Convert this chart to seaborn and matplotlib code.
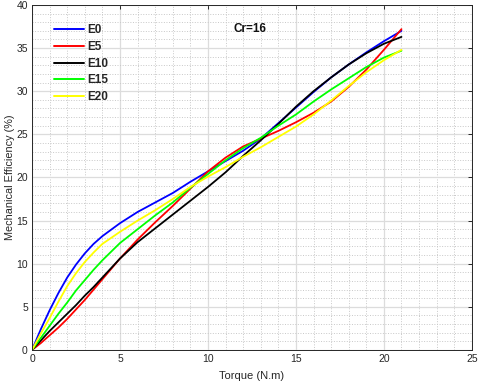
import pandas as pd
import matplotlib
matplotlib.use('Agg')
import matplotlib.pyplot as plt
from matplotlib.ticker import MultipleLocator
import seaborn as sns

# Data
torque = [0, 0.5, 1, 1.5, 2, 2.5, 3, 3.5, 4, 5, 6, 7, 8, 9, 10, 11, 12, 13, 14, 15, 16, 17, 18, 19, 20, 21]
e0 = [0, 2.4, 4.6, 6.6, 8.4, 9.9, 11.2, 12.3, 13.2, 14.7, 16.0, 17.1, 18.2, 19.5, 20.7, 21.9, 23.1, 24.5, 26.3, 28.1, 29.9, 31.6, 33.1, 34.5, 35.8, 37.0]
e5 = [0, 0.8, 1.7, 2.6, 3.6, 4.7, 5.8, 7.0, 8.2, 10.6, 12.8, 14.8, 16.7, 18.7, 20.7, 22.3, 23.6, 24.5, 25.4, 26.4, 27.5, 28.8, 30.5, 32.5, 34.8, 37.2]
e10 = [0, 1.1, 2.2, 3.2, 4.2, 5.2, 6.3, 7.3, 8.4, 10.6, 12.5, 14.1, 15.7, 17.3, 18.9, 20.6, 22.5, 24.3, 26.2, 28.2, 30.0, 31.6, 33.1, 34.4, 35.5, 36.3]
e15 = [0, 1.4, 2.8, 4.2, 5.5, 6.9, 8.1, 9.3, 10.4, 12.4, 14.0, 15.6, 17.1, 18.8, 20.4, 22.0, 23.4, 24.6, 26.0, 27.3, 28.8, 30.2, 31.5, 32.8, 33.9, 34.7]
e20 = [0, 1.9, 3.7, 5.6, 7.4, 8.9, 10.2, 11.3, 12.3, 13.7, 15.0, 16.2, 17.5, 18.9, 20.1, 21.2, 22.4, 23.5, 24.7, 25.9, 27.3, 28.9, 30.6, 32.2, 33.6, 34.8]

labels = ['E0', 'E5', 'E10', 'E15', 'E20']
colors = ['#0000ff', '#ff0000', '#000000', '#00ff00', '#ffff00']

df = pd.DataFrame({'Torque': torque, 'E0': e0, 'E5': e5, 'E10': e10, 'E15': e15, 'E20': e20})
long_df = df.melt(id_vars='Torque', var_name='Blend', value_name='Efficiency')

sns.set_style('white')
plt.rcParams['font.family'] = ['Liberation Sans', 'DejaVu Sans']

fig = plt.figure(figsize=(4.8, 3.83), dpi=100)
ax = fig.add_axes([0.0667, 0.0862, 0.9163, 0.9008])

sns.lineplot(data=long_df, x='Torque', y='Efficiency', hue='Blend', hue_order=labels,
             palette=colors, linewidth=1.3, ax=ax)

ax.set_xlim(0, 25)
ax.set_ylim(0, 40)
ax.xaxis.set_major_locator(MultipleLocator(5))
ax.yaxis.set_major_locator(MultipleLocator(5))
ax.xaxis.set_minor_locator(MultipleLocator(1))
ax.yaxis.set_minor_locator(MultipleLocator(1))
ax.grid(which='major', color='#dcdcdc', linestyle='-', linewidth=0.9)
ax.grid(which='minor', color='#c8c8c8', linestyle=':', linewidth=0.7)
ax.set_axisbelow(True)

ax.tick_params(which='major', direction='in', length=3, width=0.7, colors='#262626',
               labelsize=7.5, top=True, right=True, labeltop=False, labelright=False, pad=3)
ax.tick_params(which='minor', length=0)
for s in ax.spines.values():
    s.set_color('#262626')
    s.set_linewidth(0.7)

ax.set_xlabel('Torque (N.m)', fontsize=8, color='#262626', labelpad=5)
ax.set_ylabel('Mechanical Efficiency (%)', fontsize=7.8, color='#262626', labelpad=1)

ax.text(0.495, 0.93, 'Cr=16', transform=ax.transAxes, fontsize=8.5, fontweight='bold',
        ha='center', va='center', color='#111111')

leg = ax.legend(loc='upper left', bbox_to_anchor=(0.025, 0.975), frameon=False,
                handlelength=2.6, handletextpad=0.25, labelspacing=0.4,
                prop={'weight': 'bold', 'size': 8.5})
for line in leg.get_lines():
    line.set_linewidth(1.4)

fig.savefig('out.png', dpi=100)
